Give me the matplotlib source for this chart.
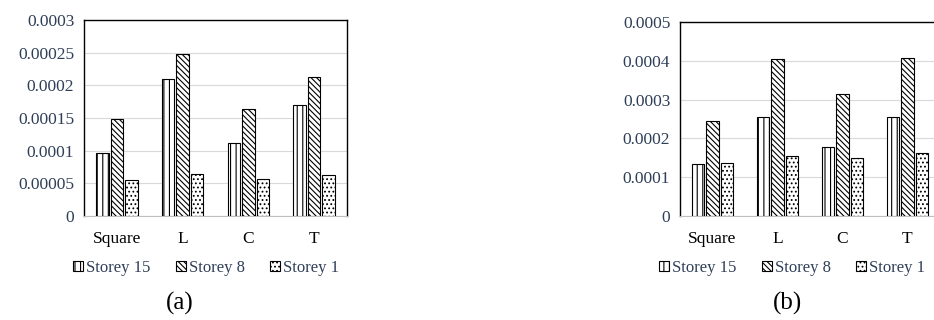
import numpy as np
import matplotlib.pyplot as plt

plt.rcParams['font.family'] = ['Liberation Serif', 'DejaVu Serif']
plt.rcParams['hatch.linewidth'] = 0.8

categories = ['Square', 'L', 'C', 'T']
series = ['Storey 15', 'Storey 8', 'Storey 1']

# panel (a)
a_storey15 = [0.000096, 0.000209, 0.000111, 0.000170]
a_storey8 = [0.000149, 0.000248, 0.000164, 0.000213]
a_storey1 = [0.000055, 0.000065, 0.000057, 0.000063]

# panel (b)
b_storey15 = [0.000133, 0.000255, 0.000178, 0.000255]
b_storey8 = [0.000245, 0.000404, 0.000314, 0.000406]
b_storey1 = [0.000136, 0.000155, 0.000149, 0.000162]

a_ticks = ['0', '0.00005', '0.0001', '0.00015', '0.0002', '0.00025', '0.0003']
b_ticks = ['0', '0.0001', '0.0002', '0.0003', '0.0004', '0.0005']

hatches = ['|||', '\\' * 6, '....']
tick_col = '#2f3f58'

fig = plt.figure(figsize=(9.34, 3.2), dpi=100)
W, H = 934, 320


def panel(rect, data, ticks, ymax, legend_x, label, label_x):
    ax = fig.add_axes(rect)
    x = np.arange(len(categories))
    w = 0.19
    offs = [-0.22, 0.0, 0.22]
    handles = []
    for vals, off, h, name in zip(data, offs, hatches, series):
        b = ax.bar(x + off, vals, w, color='white', edgecolor='black',
                   linewidth=0.8, hatch=h, label=name, zorder=3)
        handles.append(b)
    ax.set_xlim(-0.5, 3.5)
    ax.set_ylim(0, ymax)
    ax.set_yticks([float(t) for t in ticks])
    ax.set_yticklabels(ticks, color=tick_col, fontsize=12.5)
    ax.set_xticks(x)
    ax.set_xticklabels(categories, fontsize=12.5)
    ax.tick_params(axis='y', length=0, pad=7)
    ax.tick_params(axis='x', length=0, pad=11)
    ax.grid(axis='y', color='#d9d9d9', linewidth=0.8, zorder=0)
    for s in ['left', 'top', 'right']:
        ax.spines[s].set_color('black')
        ax.spines[s].set_linewidth(1.0)
    ax.spines['bottom'].set_color('#bfbfbf')
    fig.legend(handles=handles, loc='center',
               bbox_to_anchor=(legend_x / W, 1 - 268 / H), ncol=3,
               frameon=False, fontsize=12, handlelength=0.6, handleheight=0.6,
               handletextpad=0.2, columnspacing=1.5, labelcolor=tick_col)
    fig.text(label_x / W, 1 - 303 / H, label, ha='center', va='center',
             fontsize=18)
    return ax


panel([84 / W, 1 - 216 / H, 263 / W, 196 / H],
      [a_storey15, a_storey8, a_storey1], a_ticks, 0.0003, 206, '(a)', 180)
panel([680 / W, 1 - 216 / H, 260 / W, 194 / H],
      [b_storey15, b_storey8, b_storey1], b_ticks, 0.0005, 792, '(b)', 787)

fig.savefig('out.png', dpi=100)
